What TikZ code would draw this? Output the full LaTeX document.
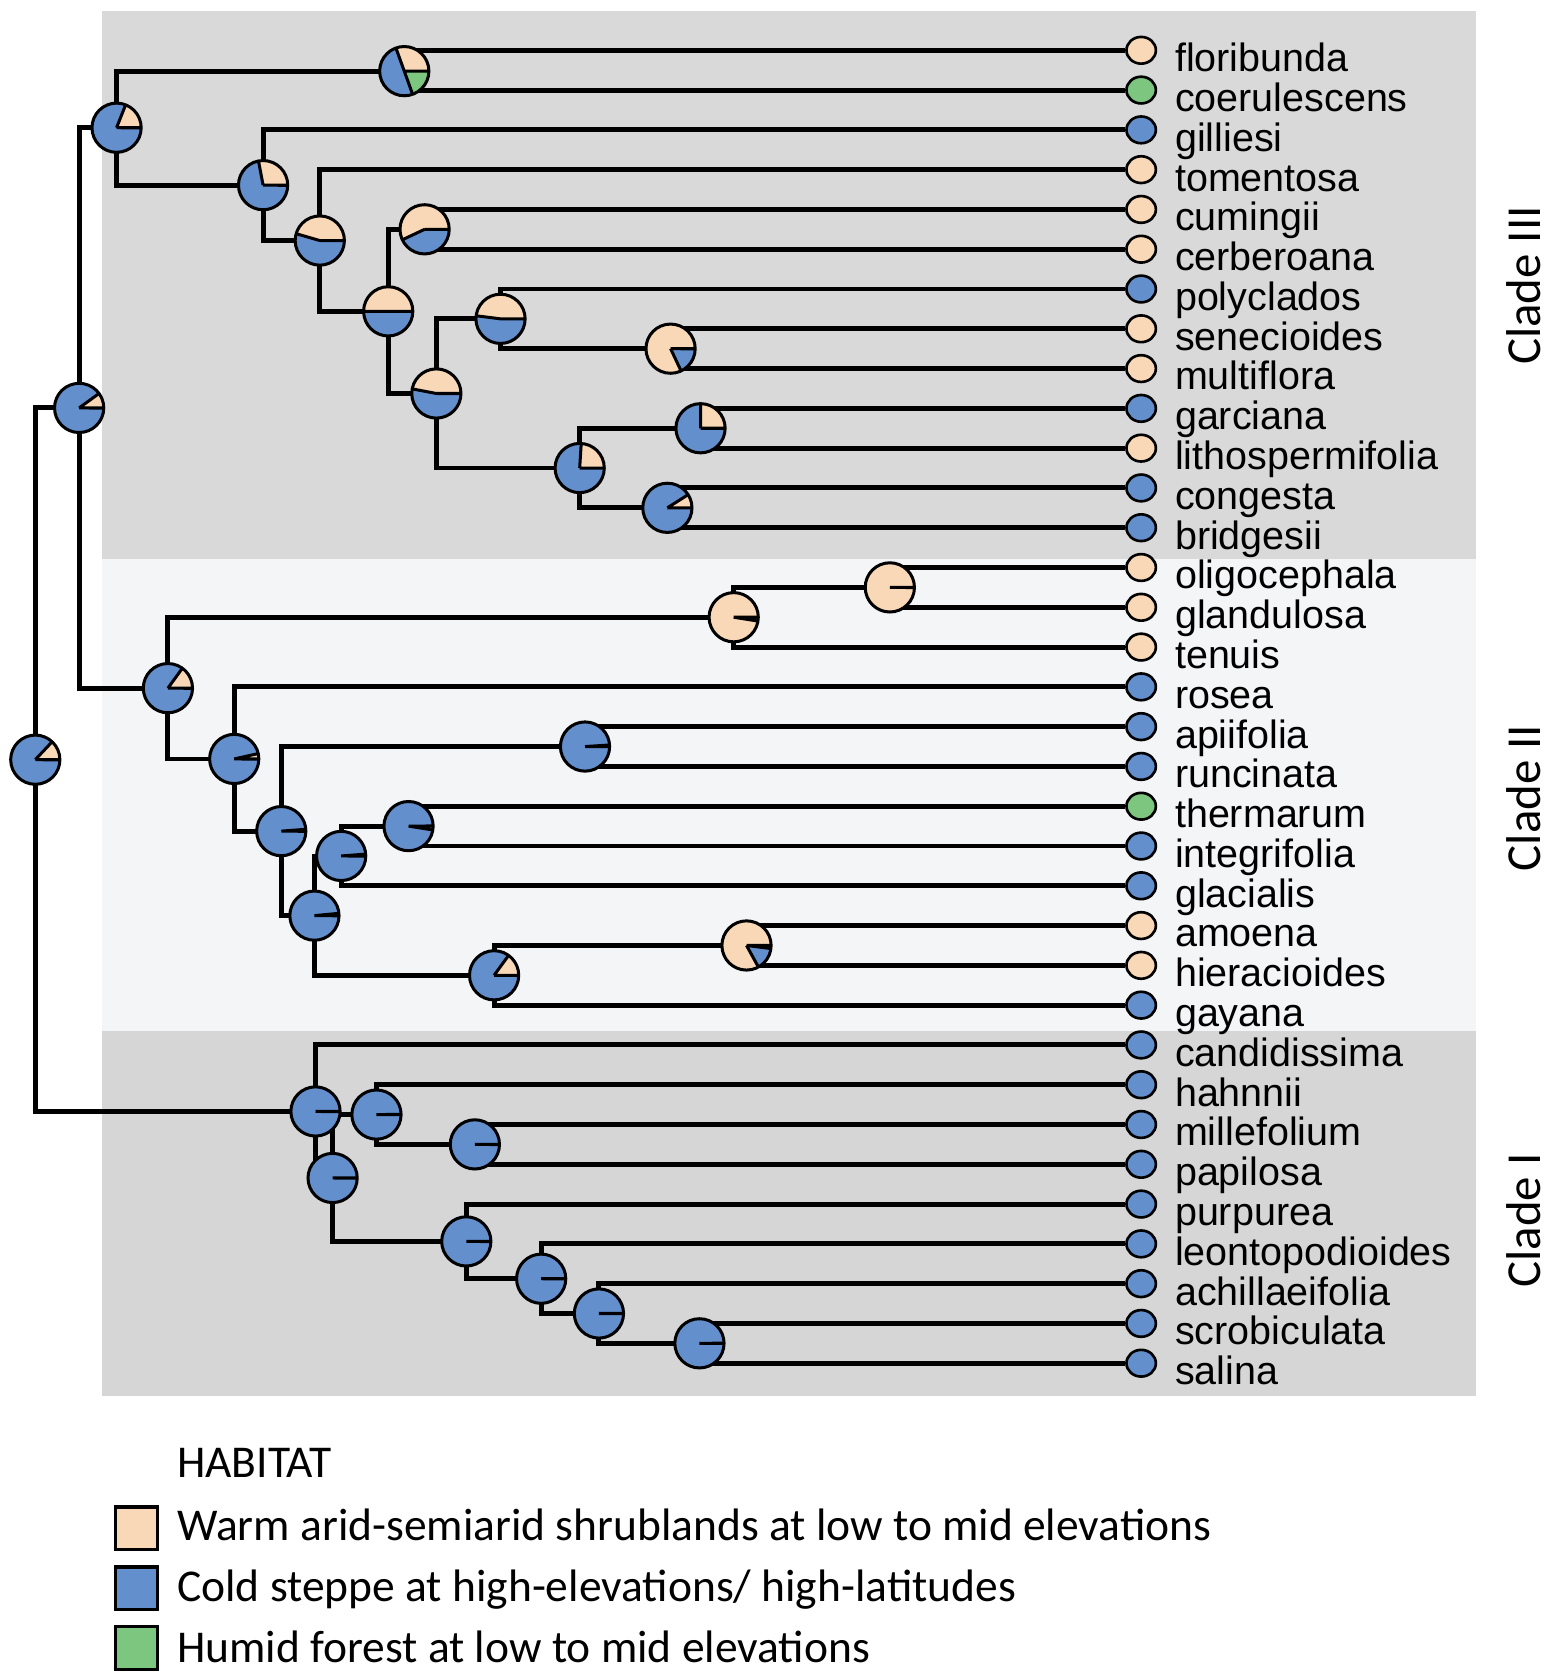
\documentclass[tikz,border=0pt]{standalone}
\usepackage{fontspec}
\setmainfont{Liberation Sans}
\newfontfamily\legfont{Carlito}
\usetikzlibrary{shapes.geometric,math}
\definecolor{warm}{RGB}{248,216,182}
\definecolor{cold}{RGB}{99,143,205}
\definecolor{humid}{RGB}{125,198,127}
\definecolor{panelIII}{RGB}{217,217,217}
\definecolor{panelII}{RGB}{244,245,247}
\definecolor{panelI}{RGB}{214,214,214}
\newcommand{\pierad}{0.23cm}
\newcommand{\habpie}[3]{%
  \fill[cold] (#1) circle (\pierad);
  \fill[warm] (#1) -- ++(0:\pierad) arc (0:{360*#2}:\pierad) -- cycle;
  \fill[humid] (#1) -- ++({360-360*#3}:\pierad) arc ({360-360*#3}:360:\pierad) -- cycle;
  \draw[pieline] (#1) -- ++(0:\pierad) (#1) -- ++({360*#2}:\pierad) (#1) -- ++({360-360*#3}:\pierad);
  \draw[pieline] (#1) circle (\pierad);
}

\begin{document}
\begin{tikzpicture}[x=0.01cm,y=-0.01cm,
    branch/.style={line width=1.3pt},
    pieline/.style={line width=0.8pt,black},
    tip/.style={ellipse,draw=black,line width=0.7pt,minimum width=0.275cm,minimum height=0.25cm,inner sep=0pt},
    taxon/.style={anchor=base west,inner sep=0pt,font=\fontsize{10.5}{12}\selectfont},
    cladetext/.style={rotate=90,inner sep=0pt,font=\legfont\fontsize{13}{15}\selectfont},
    legbox/.style={draw=black,line width=0.9pt,minimum width=0.39cm,minimum height=0.4cm,inner sep=0pt},
    legtext/.style={anchor=base west,inner sep=0pt,font=\legfont\fontsize{12.1}{14}\selectfont}]
  \useasboundingbox (0,0) rectangle (1451,1568);
  \tikzmath{\ytop = 47; \dy = 37.2;}
  \fill[panelIII] (95,10) rectangle (1380,523);
  \fill[panelII] (95,523) rectangle (1380,964);
  \fill[panelI] (95,964) rectangle (1380,1305);

  \foreach \tname/\tcol [count=\i from 0] in {floribunda/warm, coerulescens/humid, gilliesi/cold, tomentosa/warm,
      cumingii/warm, cerberoana/warm, polyclados/cold, senecioides/warm, multiflora/warm, garciana/cold,
      lithospermifolia/warm, congesta/cold, bridgesii/cold, oligocephala/warm, glandulosa/warm, tenuis/warm,
      rosea/cold, apiifolia/cold, runcinata/cold, thermarum/humid, integrifolia/cold, glacialis/cold,
      amoena/warm, hieracioides/warm, gayana/cold, candidissima/cold, hahnnii/cold, millefolium/cold,
      papilosa/cold, purpurea/cold, leontopodioides/cold, achillaeifolia/cold, scrobiculata/cold, salina/cold} {
    \node[tip,fill=\tcol] (\tname) at (1067,{\ytop+\dy*\i}) {};
    \node[taxon] (l\tname) at (1098,{\ytop+\dy*\i+20}) {\tname};
  }

  \coordinate (nroot) at (33,710.3);
  \coordinate (nD) at (74,381.4);
  \coordinate (nA) at (109,119.4);
  \coordinate (nflor) at (378,66.5);
  \coordinate (ngill) at (246,173.1);
  \coordinate (ntom) at (299,224.9);
  \coordinate (nB) at (363,291.1);
  \coordinate (ncum) at (397,214.4);
  \coordinate (nC) at (408,367.9);
  \coordinate (npoly) at (468,298.1);
  \coordinate (nsen) at (627,326);
  \coordinate (ngartop) at (542,437.6);
  \coordinate (ngar) at (655,400.4);
  \coordinate (ncong) at (624,474.8);
  \coordinate (nE) at (157,643.4);
  \coordinate (nolig) at (686,577.1);
  \coordinate (nolig2) at (832,549.2);
  \coordinate (nF) at (219,709.6);
  \coordinate (nG) at (263,777.1);
  \coordinate (napi) at (547,698);
  \coordinate (nH) at (294,856.1);
  \coordinate (nI) at (319,800.3);
  \coordinate (ntherm) at (382,772.4);
  \coordinate (ngay) at (462,911.9);
  \coordinate (namo) at (698,884);
  \coordinate (nCI) at (295,1039.2);
  \coordinate (nK) at (311,1101.4);
  \coordinate (nhahn) at (352,1042.1);
  \coordinate (nmille) at (444,1070);
  \coordinate (npurp) at (436,1160.7);
  \coordinate (nleon) at (506,1195.6);
  \coordinate (nachil) at (560,1228.1);
  \coordinate (nscrob) at (654,1256);

  \foreach \p/\c in {nroot/nD, nroot/nCI, nD/nA, nD/nE,
      nA/nflor, nA/ngill, nflor/floribunda, nflor/coerulescens, ngill/gilliesi, ngill/ntom,
      ntom/tomentosa, ntom/nB, nB/ncum, nB/nC, ncum/cumingii, ncum/cerberoana, nC/npoly, nC/ngartop,
      npoly/polyclados, npoly/nsen, nsen/senecioides, nsen/multiflora, ngartop/ngar, ngartop/ncong,
      ngar/garciana, ngar/lithospermifolia, ncong/congesta, ncong/bridgesii,
      nE/nolig, nE/nF, nolig/nolig2, nolig/tenuis, nolig2/oligocephala, nolig2/glandulosa,
      nF/rosea, nF/nG, nG/napi, nG/nH, napi/apiifolia, napi/runcinata, nH/nI, nH/ngay,
      nI/ntherm, nI/glacialis, ntherm/thermarum, ntherm/integrifolia, ngay/namo, ngay/gayana,
      namo/amoena, namo/hieracioides,
      nCI/candidissima, nCI/nK, nK/nhahn, nK/npurp, nhahn/hahnnii, nhahn/nmille,
      nmille/millefolium, nmille/papilosa, npurp/purpurea, npurp/nleon, nleon/leontopodioides,
      nleon/nachil, nachil/achillaeifolia, nachil/nscrob, nscrob/scrobiculata, nscrob/salina}
    \draw[branch] (\p) |- (\c);

  \foreach \n/\w/\g in {nroot/0.13/0.001, nD/0.10/0.001, nA/0.19/0.001, nflor/0.305/0.195,
      ngill/0.28/0.001, ntom/0.455/0.001, nB/0.5/0.001, ncum/0.57/0.001, nC/0.47/0.001,
      npoly/0.48/0.001, nsen/0.82/0.001, ngartop/0.24/0.001, ngar/0.25/0.001, ncong/0.09/0.001,
      nE/0.15/0.001, nolig/0.975/0.001, nolig2/1/0.001, nF/0.035/0.001, nG/0.012/0.001,
      napi/0.01/0.001, nH/0.015/0.001, nI/0.012/0.001, ntherm/0.001/0.025, ngay/0.15/0.001,
      namo/0.83/0.02, nCI/0.001/0.001, nK/0.001/0.001, nhahn/0.001/0.001, nmille/0.001/0.001,
      npurp/0.001/0.001, nleon/0.001/0.001, nachil/0.001/0.001, nscrob/0.001/0.001}
    \habpie{\n}{\w}{\g};

  \node[cladetext] (cIII) at (1425,267) {Clade III};
  \node[cladetext] (cII) at (1425,746) {Clade II};
  \node[cladetext] (cI) at (1425,1141) {Clade I};

  \node[legtext] (habitat) at (165,1381) {HABITAT};
  \node[legbox,fill=warm] (kwarm) at (127.5,1429) {};
  \node[legbox,fill=cold] (kcold) at (127.5,1485) {};
  \node[legbox,fill=humid] (khumid) at (127.5,1541) {};
  \node[legtext] (twarm) at (165,1440) {Warm arid-semiarid shrublands at low to mid elevations};
  \node[legtext] (tcold) at (165,1497) {Cold steppe at high-elevations/ high-latitudes};
  \node[legtext] (thumid) at (165,1554) {Humid forest at low to mid elevations};
\end{tikzpicture}
\end{document}
